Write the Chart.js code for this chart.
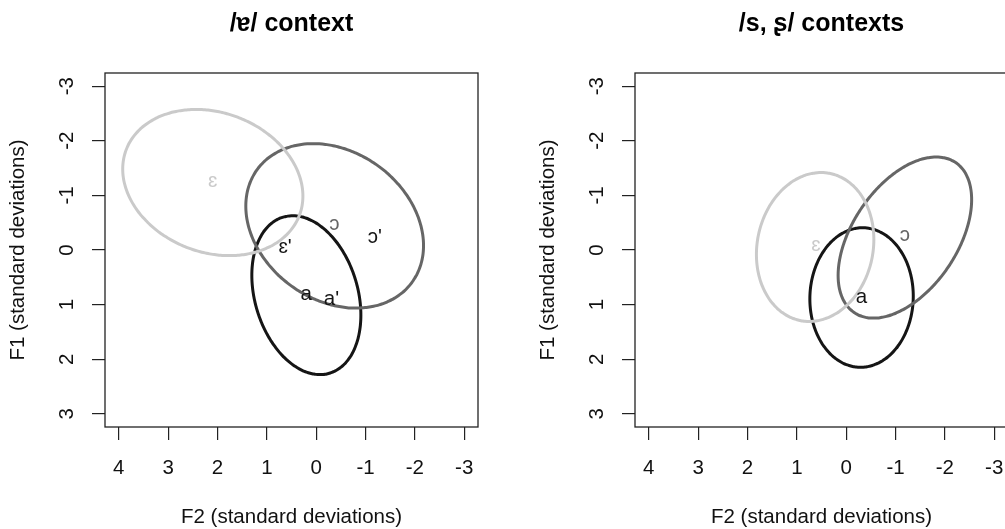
<!DOCTYPE html>
<html>
<head>
<meta charset="utf-8">
<script src="https://cdn.jsdelivr.net/npm/chart.js@4.4.0/dist/chart.umd.min.js"></script>
<style>
html,body{margin:0;padding:0;background:#fff;overflow:hidden;width:1005px;height:529px;}
#wrap{position:relative;width:1005px;height:529px;overflow:hidden;background:#fff;}
canvas{position:absolute;top:0;}
#c1{left:0;}
#c2{left:530px;}
</style>
</head>
<body>
<div id="wrap">
<canvas id="c1" width="500" height="529"></canvas>
<canvas id="c2" width="500" height="529"></canvas>
</div>
<script>
// ---------------- DATA ----------------
const panelTitles = ['/ɐ/ context', '/s, ʂ/ contexts'];
const xAxisTitle = 'F2 (standard deviations)';
const yAxisTitle = 'F1 (standard deviations)';
const xTickValues = [4, 3, 2, 1, 0, -1, -2, -3];
const yTickValues = [-3, -2, -1, 0, 1, 2, 3];

// vowel categories drawn as ellipses (same order in both panels)
const vowelNames = ['ɛ', 'ɔ', 'a'];

// left panel ellipses: mean, spread (semi-extent) and correlation
const leftMeanF2   = [2.095, -0.375, 0.199];
const leftMeanF1   = [-1.235, -0.442, 0.827];
const leftSpreadF2 = [1.826, 1.801, 1.105];
const leftSpreadF1 = [1.338, 1.505, 1.454];
const leftCorr     = [-0.185, -0.24, -0.25];

// right panel ellipses
const rightMeanF2   = [0.629, -1.19, -0.312];
const rightMeanF1   = [-0.055, -0.228, 0.870];
const rightSpreadF2 = [1.19, 1.353, 1.048];
const rightSpreadF1 = [1.363, 1.475, 1.277];
const rightCorr     = [0.10, 0.47, 0.02];

// text labels
const leftLabels   = ['ɛ', 'ɔ', "ɔ'", "ɛ'", 'a', "a'"];
const leftLabelF2  = [2.095, -0.37, -1.19, 0.63, 0.20, -0.31];
const leftLabelF1  = [-1.235, -0.46, -0.21, -0.03, 0.83, 0.93];
const rightLabels  = ['ɛ', 'ɔ', 'a'];
const rightLabelF2 = [0.615, -1.19, -0.312];
const rightLabelF1 = [-0.06, -0.243, 0.89];

// ---------------- STYLE ----------------
const FONT = "'Liberation Sans', Arial, 'DejaVu Sans', sans-serif";
const vowelColors = {'ɛ': '#cacaca', 'ɔ': '#666666', 'a': '#151515'};
const primedColor = '#151515';

function ellipseOutline(mx, my, sx, sy, r) {
  const pts = [];
  const n = 180;
  const s = Math.sqrt(1 - r * r);
  for (let i = 0; i <= n; i++) {
    const t = 2 * Math.PI * i / n;
    pts.push({x: mx + sx * Math.cos(t), y: my + sy * (r * Math.cos(t) + s * Math.sin(t))});
  }
  return pts;
}

const framePlugin = {
  id: 'frame',
  afterDraw(chart) {
    const a = chart.chartArea, ctx = chart.ctx;
    ctx.save();
    ctx.strokeStyle = '#222';
    ctx.lineWidth = 1.3;
    ctx.strokeRect(a.left, a.top, a.right - a.left, a.bottom - a.top);
    ctx.restore();
  }
};

const labelPlugin = {
  id: 'vowelLabels',
  afterDatasetsDraw(chart, args, opts) {
    const ctx = chart.ctx, xs = chart.scales.x, ys = chart.scales.y;
    ctx.save();
    ctx.font = '20.5px ' + FONT;
    ctx.textAlign = 'center';
    ctx.textBaseline = 'middle';
    opts.texts.forEach((t, i) => {
      ctx.fillStyle = vowelColors[t] || primedColor;
      ctx.fillText(t, xs.getPixelForValue(opts.f2[i]), ys.getPixelForValue(opts.f1[i]) - 1);
    });
    ctx.restore();
  }
};

function makePanel(id, title, mF2, mF1, sF2, sF1, rr, texts, tF2, tF1) {
  const datasets = vowelNames.map((v, i) => ({
    label: v,
    data: ellipseOutline(mF2[i], mF1[i], sF2[i], sF1[i], rr[i]),
    showLine: true,
    borderColor: vowelColors[v],
    borderWidth: 3,
    borderJoinStyle: 'round',
    borderCapStyle: 'round',
    pointRadius: 0,
    fill: false,
    tension: 0.2
  }));
  return new Chart(document.getElementById(id), {
    type: 'scatter',
    data: {datasets},
    options: {
      responsive: false,
      animation: false,
      events: [],
      layout: {padding: {left: 0, right: 22, top: 0, bottom: 0}},
      plugins: {
        legend: {display: false},
        tooltip: {enabled: false},
        title: {
          display: true, text: title, fullSize: false, color: '#000',
          font: {family: FONT, size: 25, weight: 'bold'},
          padding: {top: 9, bottom: 34}
        },
        vowelLabels: {texts, f2: tF2, f1: tF1}
      },
      scales: {
        x: {
          type: 'linear', reverse: true, min: -3.28, max: 4.28,
          afterBuildTicks: s => { s.ticks = xTickValues.map(v => ({value: v})); },
          afterFit: s => { s.height = 102; },
          border: {display: false},
          grid: {drawOnChartArea: false, drawTicks: true, tickLength: 13, color: '#222', lineWidth: 1.2},
          ticks: {font: {family: FONT, size: 20.5}, color: '#111', padding: 16, autoSkip: false,
                  maxRotation: 0, minRotation: 0, callback: v => String(v)},
          title: {display: true, text: xAxisTitle, color: '#111', font: {family: FONT, size: 20.5},
                  padding: {top: 0, bottom: -1}}
        },
        y: {
          type: 'linear', reverse: true, min: -3.24, max: 3.24,
          afterBuildTicks: s => { s.ticks = yTickValues.map(v => ({value: v})); },
          afterFit: s => { s.width = 105; },
          border: {display: false},
          grid: {drawOnChartArea: false, drawTicks: true, tickLength: 13, color: '#222', lineWidth: 1.2},
          ticks: {font: {family: FONT, size: 20.5}, color: '#111', padding: 16, autoSkip: false,
                  minRotation: 90, maxRotation: 90, crossAlign: 'center', callback: v => String(v)},
          title: {display: true, text: yAxisTitle, color: '#111', font: {family: FONT, size: 20.5},
                  padding: {top: 6, bottom: 0}}
        }
      }
    },
    plugins: [framePlugin, labelPlugin]
  });
}

makePanel('c1', panelTitles[0], leftMeanF2, leftMeanF1, leftSpreadF2, leftSpreadF1, leftCorr,
          leftLabels, leftLabelF2, leftLabelF1);
makePanel('c2', panelTitles[1], rightMeanF2, rightMeanF1, rightSpreadF2, rightSpreadF1, rightCorr,
          rightLabels, rightLabelF2, rightLabelF1);
</script>
</body>
</html>
